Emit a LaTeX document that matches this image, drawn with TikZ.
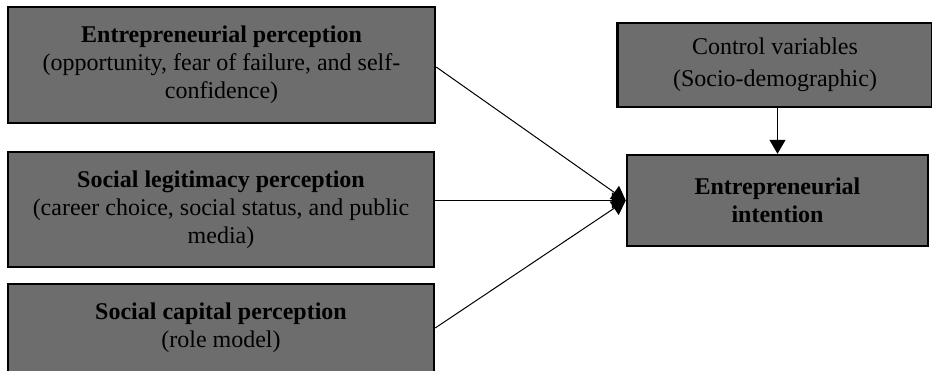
\documentclass[tikz,border=0pt]{standalone}
\usepackage{fontspec}
\setmainfont{Liberation Serif}
\usetikzlibrary{arrows.meta}
\definecolor{boxgray}{RGB}{109,109,109}
\tikzset{
  box/.style = {draw=black, line width=1.2pt, fill=boxgray,
                minimum width=#1, align=center, inner sep=0pt,
                font=\fontsize{12}{14}\selectfont},
  box/.default = 213pt,
  link/.style = {line width=0.5pt, -{Triangle[width=8pt,length=7pt]}}
}

\begin{document}
\begin{tikzpicture}[x=0.5pt, y=-0.5pt]
	\useasboundingbox (0,0) rectangle (932,370);

	% Perceptions (left column)
	\node[box=213.5pt, minimum height=58pt] (percep) at (221.5,65)
		{\textbf{Entrepreneurial perception}\\(opportunity, fear of failure, and self-\\confidence)};
	\node[box, minimum height=57.5pt] (legit) at (221,209.5)
		{\textbf{Social legitimacy perception}\\(career choice, social status, and public\\media)};
	\node[box, minimum height=44pt] (capital) at (221,328)
		{\textbf{Social capital perception}\\(role model)};

	% Right column
	\node[box=157.5pt, minimum height=42pt, font=\fontsize{12}{16}\selectfont] (ctrl) at (775,65)
		{Control variables\\(Socio-demographic)};
	\node[box=150.5pt, minimum height=45.5pt] (inten) at (777.5,200.5)
		{\textbf{Entrepreneurial}\\\textbf{intention}};

	% Links
	\draw[link] ([yshift=-1pt]percep.east) -- (inten.west);
	\draw[link] (legit.east |- inten.west) -- (inten.west);
	\draw[link] (capital.east) -- (inten.west);
	\draw[link] (inten.north |- ctrl.south) -- (inten.north);
\end{tikzpicture}
\end{document}
